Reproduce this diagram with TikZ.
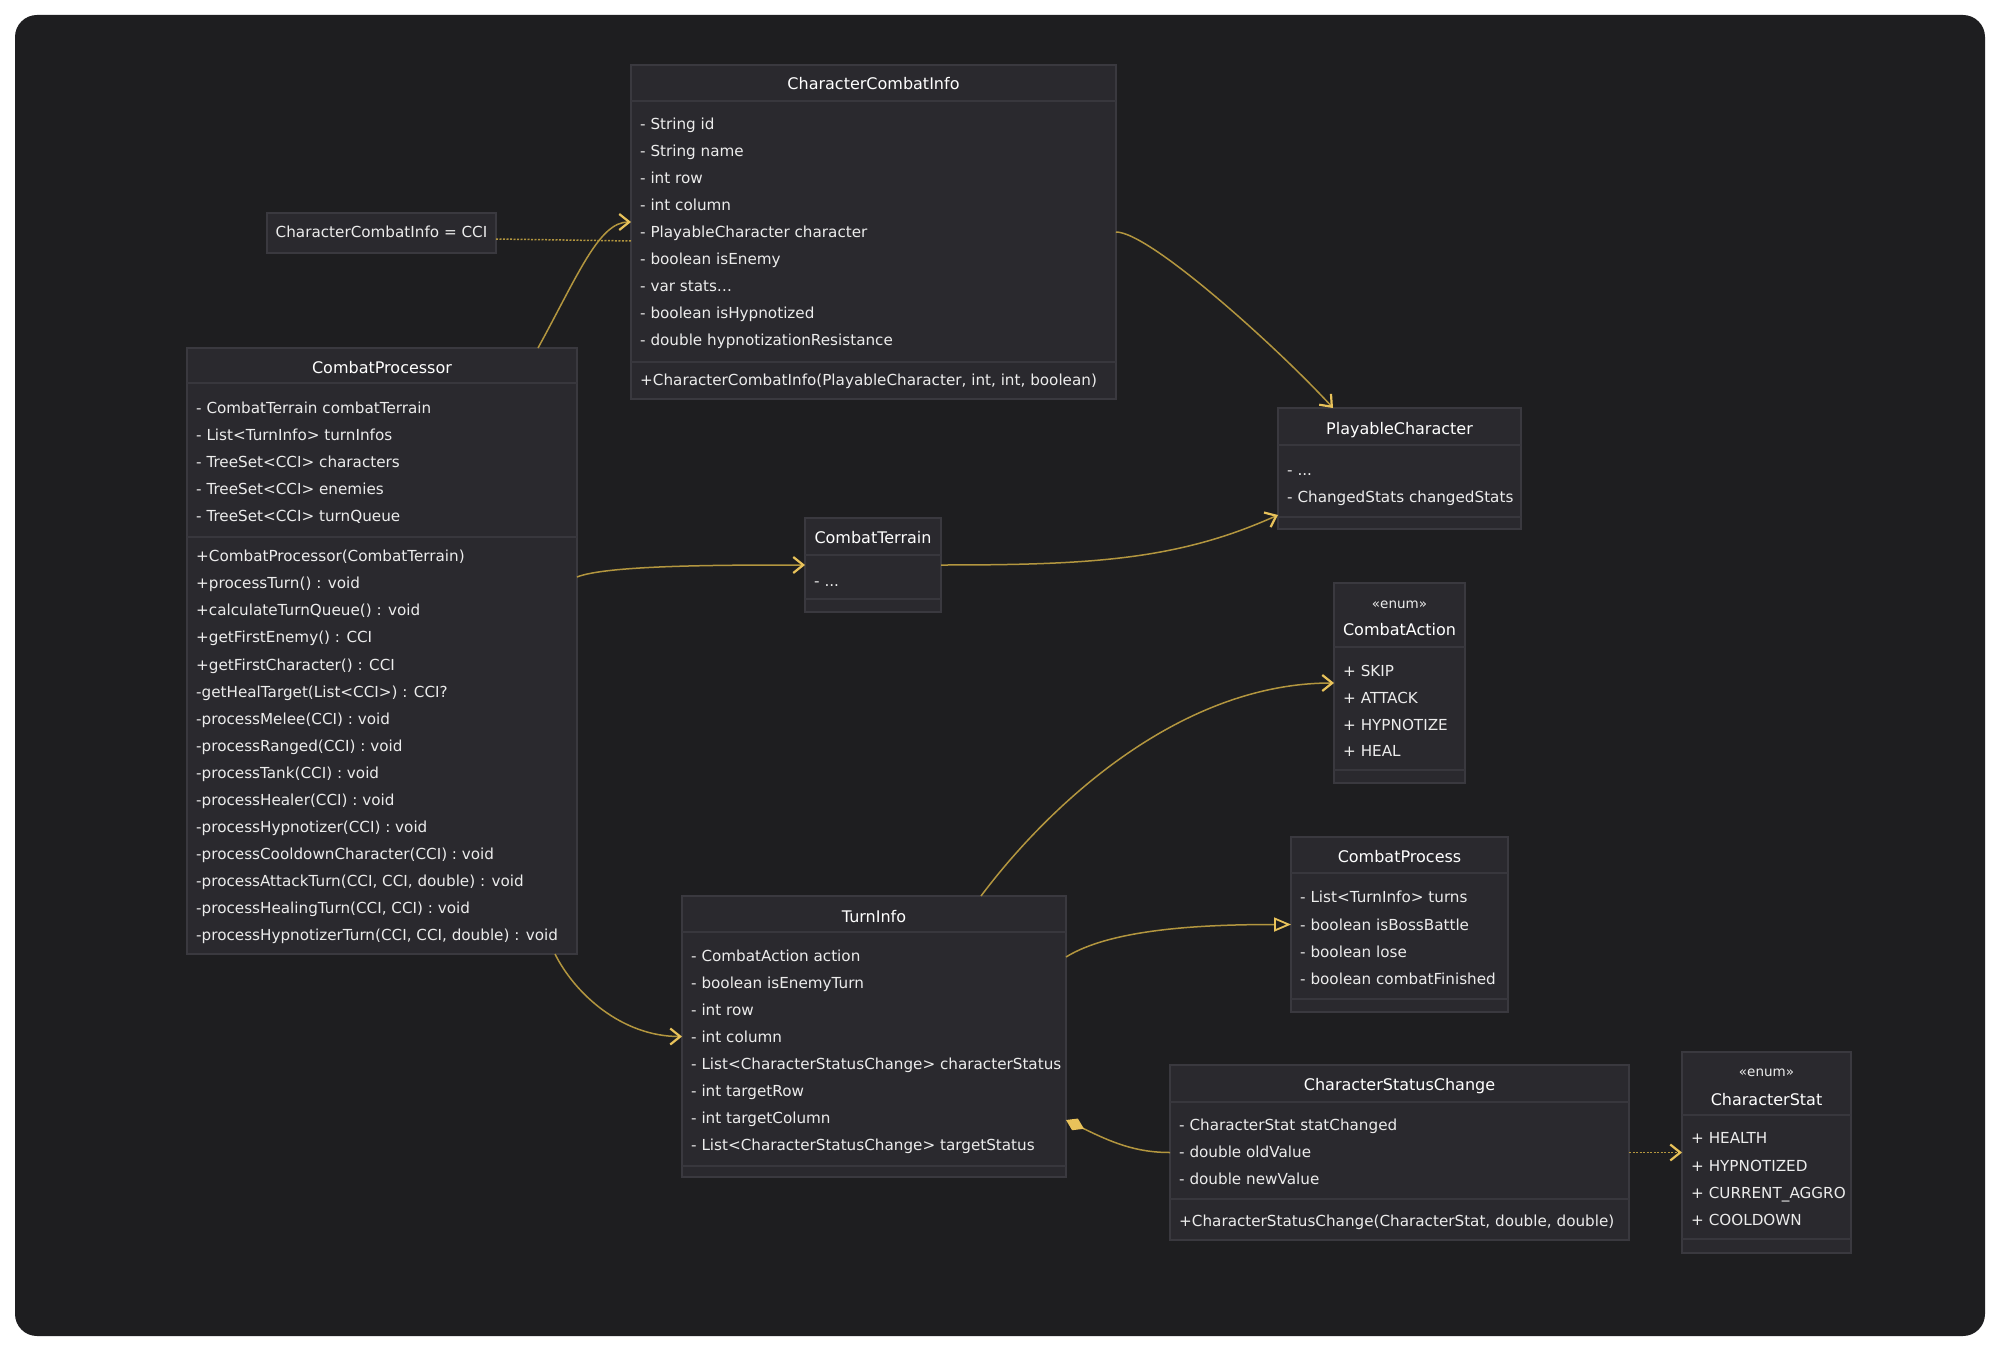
\documentclass[tikz,border=0pt]{standalone}
\usepackage{fontspec}
\setmainfont{DejaVu Sans}
\usetikzlibrary{arrows.meta}
\definecolor{outerbg}{HTML}{FFFFFF}
\definecolor{bg}{HTML}{1E1E20}
\definecolor{boxfill}{HTML}{2A292E}
\definecolor{boxline}{HTML}{3A393F}
\definecolor{sepline}{HTML}{38373D}
\definecolor{txt}{HTML}{ECECEC}
\definecolor{linec}{HTML}{B3963F}
\definecolor{arrowc}{HTML}{E8C25A}
\tikzset{
  classbox/.style={draw=boxline, fill=boxfill, line width=1.3pt, anchor=north west, inner sep=0pt, outer sep=0pt},
  member/.style={anchor=west, inner sep=0pt, text=txt, font=\fontsize{15.2}{16}\selectfont, text height=10.5pt, text depth=3pt},
  title/.style={member, anchor=center, text=white, font=\fontsize{16}{17}\selectfont},
  notetext/.style={member, anchor=center},
  stereo/.style={member, anchor=center, font=\fontsize{13.5}{14}\selectfont},
  sepl/.style={draw=sepline, line width=1.3pt},
  conn/.style={draw=linec, line width=1.5pt},
  openarrow/.style={-{Straight Barb[length=10pt,width=16pt,line width=2.2pt,color=arrowc]}},
  deplink/.style={conn, dash pattern=on 2pt off 1.5pt},
}
\begin{document}
\begin{tikzpicture}[x=1pt,y=-1pt]
\useasboundingbox (0,0) rectangle (2000,1351);
\fill[outerbg] (0,0) rectangle (2000,1351);
\fill[bg, rounded corners=22pt] (15,15) rectangle (1985,1336);

% note
\node[classbox, minimum width=229pt, minimum height=40pt] (note) at (267,213) {};
\node[notetext] (note-t) at (381.5,234) {CharacterCombatInfo = CCI};

% CharacterCombatInfo
\node[classbox, minimum width=485pt, minimum height=334pt] (cci) at (631,65) {};
\node[title] (cci-t) at (873.5,86) {CharacterCombatInfo};
\draw[sepl] (631,101) -- (1116,101);
\draw[sepl] (631,362) -- (1116,362);
\foreach \t [count=\i] in {{- String id},{- String name},{- int row},{- int column},{- PlayableCharacter character},{- boolean isEnemy},{- var stats…},{- boolean isHypnotized},{- double hypnotizationResistance}}
  \node[member] (cci-a\i) at ({640},{126+27*(\i-1)}) {\t};
\node[member] (cci-m1) at (640,382) {+CharacterCombatInfo(PlayableCharacter, int, int, boolean)};

% CombatProcessor
\node[classbox, minimum width=390pt, minimum height=606pt] (cp) at (187,348) {};
\node[title] (cp-t) at (382,370) {CombatProcessor};
\draw[sepl] (187,383) -- (577,383);
\draw[sepl] (187,537) -- (577,537);
\foreach \t [count=\i] in {{- CombatTerrain combatTerrain},{- List<TurnInfo> turnInfos},{- TreeSet<CCI> characters},{- TreeSet<CCI> enemies},{- TreeSet<CCI> turnQueue}}
  \node[member] (cp-a\i) at ({196},{410+27*(\i-1)}) {\t};
\foreach \t [count=\i] in {{+CombatProcessor(CombatTerrain)},{+processTurn() : void},{+calculateTurnQueue() : void},{+getFirstEnemy() : CCI},{+getFirstCharacter() : CCI},{-getHealTarget(List<CCI>) : CCI?},{-processMelee(CCI) : void},{-processRanged(CCI) : void},{-processTank(CCI) : void},{-processHealer(CCI) : void},{-processHypnotizer(CCI) : void},{-processCooldownCharacter(CCI) : void},{-processAttackTurn(CCI, CCI, double) : void},{-processHealingTurn(CCI, CCI) : void},{-processHypnotizerTurn(CCI, CCI, double) : void}}
  \node[member] (cp-m\i) at ({196},{558+27.07*(\i-1)}) {\t};

% PlayableCharacter
\node[classbox, minimum width=243pt, minimum height=121pt] (pc) at (1278,408) {};
\node[title] (pc-t) at (1399.5,431) {PlayableCharacter};
\draw[sepl] (1278,445) -- (1521,445);
\draw[sepl] (1278,517) -- (1521,517);
\node[member] (pc-a1) at (1287,472) {- ...};
\node[member] (pc-a2) at (1287,499) {- ChangedStats changedStats};

% CombatTerrain
\node[classbox, minimum width=136pt, minimum height=94pt] (ct) at (805,518) {};
\node[title] (ct-t) at (873,540) {CombatTerrain};
\draw[sepl] (805,555) -- (941,555);
\draw[sepl] (805,599) -- (941,599);
\node[member] (ct-a1) at (814,583) {- ...};

% CombatAction
\node[classbox, minimum width=131pt, minimum height=200pt] (ca) at (1334,583) {};
\node[stereo] (ca-s) at (1399.5,605) {«enum»};
\node[title] (ca-t) at (1399.5,632) {CombatAction};
\draw[sepl] (1334,647) -- (1465,647);
\draw[sepl] (1334,770) -- (1465,770);
\foreach \t [count=\i] in {{+ SKIP},{+ ATTACK},{+ HYPNOTIZE},{+ HEAL}}
  \node[member] (ca-a\i) at ({1343},{673+26.7*(\i-1)}) {\t};

% CombatProcess
\node[classbox, minimum width=217pt, minimum height=175pt] (cpr) at (1291,837) {};
\node[title] (cpr-t) at (1399.5,859) {CombatProcess};
\draw[sepl] (1291,873) -- (1508,873);
\draw[sepl] (1291,999) -- (1508,999);
\foreach \t [count=\i] in {{- List<TurnInfo> turns},{- boolean isBossBattle},{- boolean lose},{- boolean combatFinished}}
  \node[member] (cpr-a\i) at ({1300},{899+27.3*(\i-1)}) {\t};

% TurnInfo
\node[classbox, minimum width=384pt, minimum height=281pt] (ti) at (682,896) {};
\node[title] (ti-t) at (874,919) {TurnInfo};
\draw[sepl] (682,932) -- (1066,932);
\draw[sepl] (682,1166) -- (1066,1166);
\foreach \t [count=\i] in {{- CombatAction action},{- boolean isEnemyTurn},{- int row},{- int column},{- List<CharacterStatusChange> characterStatus},{- int targetRow},{- int targetColumn},{- List<CharacterStatusChange> targetStatus}}
  \node[member] (ti-a\i) at ({691},{958+27*(\i-1)}) {\t};

% CharacterStatusChange
\node[classbox, minimum width=459pt, minimum height=175pt] (csc) at (1170,1065) {};
\node[title] (csc-t) at (1399.5,1087) {CharacterStatusChange};
\draw[sepl] (1170,1102) -- (1629,1102);
\draw[sepl] (1170,1199) -- (1629,1199);
\foreach \t [count=\i] in {{- CharacterStat statChanged},{- double oldValue},{- double newValue}}
  \node[member] (csc-a\i) at ({1179},{1127+27*(\i-1)}) {\t};
\node[member] (csc-m1) at (1179,1223) {+CharacterStatusChange(CharacterStat, double, double)};

% CharacterStat
\node[classbox, minimum width=169pt, minimum height=201pt] (cs) at (1682,1052) {};
\node[stereo] (cs-s) at (1766.5,1073) {«enum»};
\node[title] (cs-t) at (1766.5,1102) {CharacterStat};
\draw[sepl] (1682,1115) -- (1851,1115);
\draw[sepl] (1682,1239) -- (1851,1239);
\foreach \t [count=\i] in {{+ HEALTH},{+ HYPNOTIZED},{+ CURRENT\_AGGRO},{+ COOLDOWN}}
  \node[member] (cs-a\i) at ({1691},{1140+27.3*(\i-1)}) {\t};

% connectors
\draw[deplink] ([yshift=-6pt]note.east) -- ([yshift=-9pt]cci.west);
\draw[conn, openarrow] ([xshift=351pt]cp.north west) .. controls +(40,-73) and +(-32,0) .. ([yshift=10pt]cci.west);
\draw[conn, openarrow] (cci.east) .. controls +(34,0) and +(-53,-58) .. ([xshift=55pt]pc.north west);
\draw[conn, openarrow] ([yshift=74pt]cp.east) .. controls +(30,-12) and +(-80,0) .. (ct.west);
\draw[conn, openarrow] (ct.east) .. controls +(150,0) and +(-100,45) .. ([yshift=14pt]pc.south west);
\draw[conn, openarrow] ([xshift=299pt]ti.north west) .. controls +(69,-92) and +(-154,0) .. (ca.west);
\draw[conn, -{Triangle[open,length=17pt,width=14pt,line width=1.8pt,color=arrowc,fill=bg]}] ([yshift=-61pt]ti.north east) .. controls +(45,-28) and +(-90,0) .. (cpr.west);
\draw[conn, openarrow] ([xshift=368pt]cp.south west) .. controls +(20,40) and +(-60,0) .. (ti.west);
\draw[conn, {Diamond[length=20pt,width=13pt,color=arrowc]}-] ([yshift=-83.5pt]ti.east) .. controls +(45,22) and +(-35,0) .. (csc.west);
\draw[deplink, openarrow] (csc.east) -- (cs.west);
\end{tikzpicture}
\end{document}
